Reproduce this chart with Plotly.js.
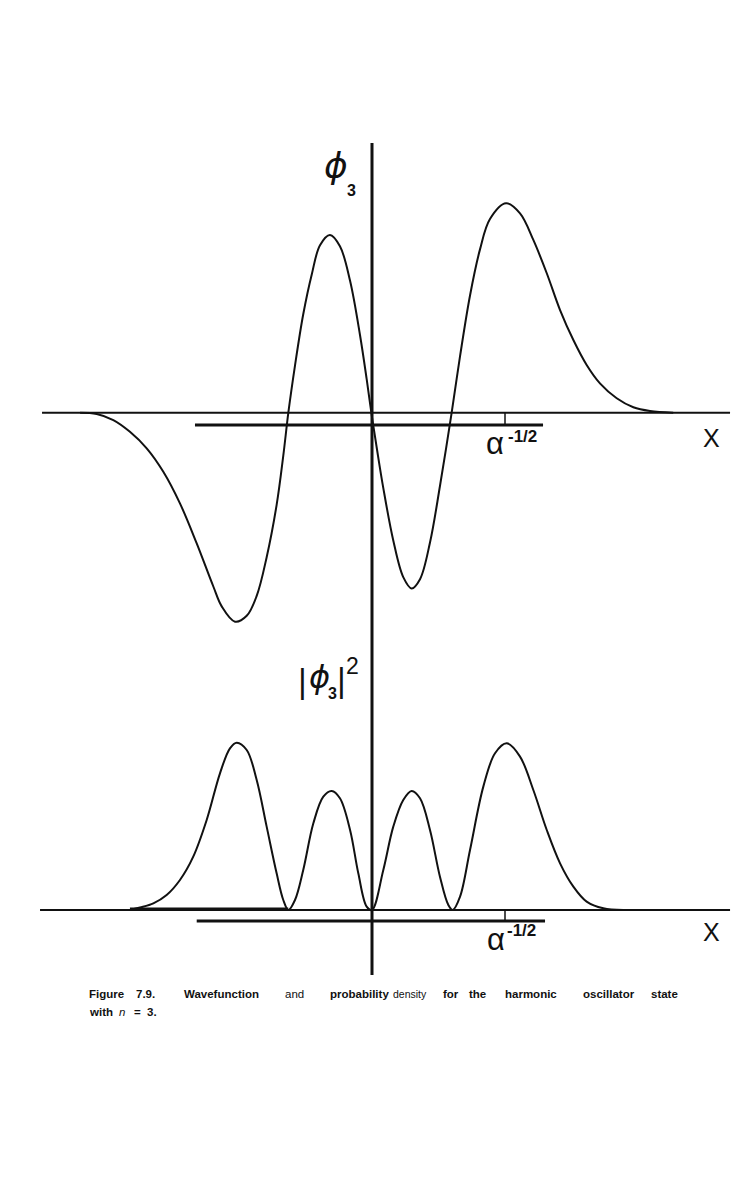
<!DOCTYPE html>
<html><head><meta charset="utf-8">
<script src="https://cdn.plot.ly/plotly-3.0.1.min.js"></script>
<style>html,body{margin:0;padding:0;background:#fff}#chart{width:744px;height:1196px}</style>
</head><body><div id="chart"></div>
<script>
// x in units of alpha^-1/2 ; y relative to the outer right maximum
const phiX = [-2.195,-2.070,-1.945,-1.820,-1.694,-1.569,-1.444,-1.318,-1.193,-1.130,-1.030,-0.942,-0.867,-0.792,-0.717,-0.667,-0.629,
  -0.579,-0.517,-0.453,-0.391,-0.316,-0.241,-0.165,-0.090,-0.040,-0.005,0.035,0.085,0.160,0.235,0.298,0.361,0.436,0.511,0.599,
  0.662,0.737,0.812,0.887,1.008,1.113,1.213,1.314,1.414,1.514,1.614,1.714,1.840,1.965,2.090,2.265];
const phiY = [0.000,-0.006,-0.035,-0.091,-0.170,-0.282,-0.433,-0.624,-0.830,-0.925,-0.998,-0.970,-0.875,-0.690,-0.440,-0.205,0.000,
  0.225,0.470,0.660,0.800,0.849,0.795,0.630,0.370,0.160,0.000,-0.165,-0.360,-0.610,-0.785,-0.839,-0.795,-0.620,-0.350,0.000,
  0.270,0.560,0.780,0.925,1.000,0.952,0.825,0.666,0.490,0.347,0.228,0.140,0.069,0.026,0.008,0.000];
const probX = [-1.820,-1.744,-1.644,-1.544,-1.444,-1.344,-1.243,-1.143,-1.068,-1.017,-0.942,-0.867,-0.792,-0.717,-0.667,-0.629,
  -0.579,-0.517,-0.441,-0.366,-0.303,-0.241,-0.165,-0.103,-0.040,0.000,0.085,0.160,0.235,0.298,0.361,0.436,0.511,0.574,0.607,
  0.662,0.737,0.837,0.925,1.013,1.113,1.213,1.314,1.414,1.514,1.614,1.739,1.889];
const probY = [0.000,0.015,0.040,0.090,0.180,0.320,0.540,0.820,0.970,1.004,0.960,0.780,0.500,0.220,0.060,0.000,
  0.060,0.240,0.520,0.680,0.714,0.670,0.480,0.220,0.020,0.000,0.240,0.500,0.660,0.714,0.670,0.480,0.200,0.030,0.000,
  0.080,0.360,0.740,0.940,1.000,0.920,0.720,0.480,0.280,0.140,0.050,0.010,0.000];

const axisExtentTop = [-2.481, 2.692];
const axisExtentBottom = [-2.496, 2.692];
const scaleBarTop = [-1.331, 1.286];
const scaleBarBottom = [-1.318, 1.301];
const tickValue = 1;
const tickLabel = 'α';
const tickLabelExp = '-1/2';
const axisLabel = 'X';
const phiSymbol = 'ϕ';
const phiIndex = '3';
const barSymbol = '|';
const powerLabel = '2';
const captionLine1 = ['Figure','7.9.','Wavefunction','and','probability','density','for','the','harmonic','oscillator','state'];
const captionLine2 = ['with','<i>n</i>','=','3.'];

const W = 744, H = 1196;
const py = p => 1 - p / H;
const ink = '#111';

const traces = [
  {x: phiX, y: phiY, xaxis: 'x', yaxis: 'y', mode: 'lines', line: {color: ink, width: 2, shape: 'spline', smoothing: 1}, hoverinfo: 'skip'},
  {x: probX, y: probY, xaxis: 'x', yaxis: 'y2', mode: 'lines', line: {color: ink, width: 2, shape: 'spline', smoothing: 1}, hoverinfo: 'skip'}
];

const barOffTop = -0.0587, barOffBot = -0.066;
const shapes = [
  {type: 'line', xref: 'x', yref: 'paper', x0: 0, x1: 0, y0: py(975), y1: py(143), line: {color: ink, width: 3}},
  {type: 'line', xref: 'x', yref: 'y', x0: axisExtentTop[0], x1: axisExtentTop[1], y0: 0, y1: 0, line: {color: ink, width: 2}},
  {type: 'line', xref: 'x', yref: 'y', x0: scaleBarTop[0], x1: scaleBarTop[1], y0: barOffTop, y1: barOffTop, line: {color: ink, width: 3.2}},
  {type: 'line', xref: 'x', yref: 'y', x0: tickValue, x1: tickValue, y0: 0, y1: barOffTop, line: {color: ink, width: 1.5}},
  {type: 'line', xref: 'x', yref: 'y2', x0: axisExtentBottom[0], x1: axisExtentBottom[1], y0: 0, y1: 0, line: {color: ink, width: 2}},
  {type: 'line', xref: 'x', yref: 'y2', x0: -1.82, x1: -0.63, y0: 0.006, y1: 0.006, line: {color: ink, width: 3.2}},
  {type: 'line', xref: 'x', yref: 'y2', x0: scaleBarBottom[0], x1: scaleBarBottom[1], y0: barOffBot, y1: barOffBot, line: {color: ink, width: 3.2}},
  {type: 'line', xref: 'x', yref: 'y2', x0: tickValue, x1: tickValue, y0: 0, y1: barOffBot, line: {color: ink, width: 1.5}}
];

const phiFont = s => ({family: 'DejaVu Sans', size: s, color: ink, style: 'italic'});
const idxFont = {family: 'Liberation Sans', size: 16, color: ink, weight: 'bold'};
const ann = (yref, x, y, text, font) => ({xref: 'x', yref: yref, x: x, y: y, xanchor: 'center', yanchor: 'middle', text: text, showarrow: false, font: font});
const annotations = [
  // top title phi_3
  ann('y', -0.274, 1.18, phiSymbol, phiFont(36)),
  ann('y', -0.155, 1.061, phiIndex, idxFont),
  // bottom title |phi_3|^2
  ann('y2', -0.519, 1.371, barSymbol, {family: 'DejaVu Sans', size: 32, color: ink}),
  ann('y2', -0.398, 1.398, phiSymbol, phiFont(32)),
  ann('y2', -0.295, 1.300, phiIndex, idxFont),
  ann('y2', -0.233, 1.377, barSymbol, {family: 'DejaVu Sans', size: 32, color: ink}),
  ann('y2', -0.147, 1.461, powerLabel, {family: 'Liberation Sans', size: 23, color: ink}),
  // tick labels and axis labels
  ann('y', tickValue - 0.075, -0.149, tickLabel, {family: 'Liberation Sans', size: 31, color: ink}),
  Object.assign(ann('y', tickValue + 0.005, -0.114, tickLabelExp, {family: 'Liberation Sans', size: 17, color: ink, weight: 'bold'}), {xanchor: 'left'}),
  ann('y', 2.553, -0.123, axisLabel, {family: 'Liberation Sans', size: 25, color: ink}),
  ann('y2', tickValue - 0.07, -0.176, tickLabel, {family: 'Liberation Sans', size: 31, color: ink}),
  Object.assign(ann('y2', tickValue + 0.0, -0.12, tickLabelExp, {family: 'Liberation Sans', size: 17, color: ink, weight: 'bold'}), {xanchor: 'left'}),
  ann('y2', 2.556, -0.132, axisLabel, {family: 'Liberation Sans', size: 25, color: ink})
];

// caption word placement (layout only)
const cap1Left = [87, 134, 182, 283, 328, 391, 441, 467, 503, 581, 649];
const cap2Left = [87, 117, 132, 145];
captionLine1.forEach((w, i) => {
  const light = (w === 'and' || w === 'density');
  annotations.push({xref: 'paper', yref: 'paper', x: cap1Left[i] / W, y: py(994), xanchor: 'left', yanchor: 'middle',
    text: w, showarrow: false, font: {family: 'Liberation Sans', size: w === 'density' ? 10.5 : 11.5, color: ink, weight: light ? 'normal' : 'bold'}});
});
captionLine2.forEach((w, i) => {
  annotations.push({xref: 'paper', yref: 'paper', x: cap2Left[i] / W, y: py(1012), xanchor: 'left', yanchor: 'middle',
    text: w, showarrow: false, font: {family: 'Liberation Sans', size: 11.5, color: ink, weight: i === 1 ? 'normal' : 'bold'}});
});

const layout = {
  width: W, height: H, margin: {l: 0, r: 0, t: 0, b: 0},
  paper_bgcolor: '#fff', plot_bgcolor: 'rgba(0,0,0,0)', showlegend: false,
  xaxis: {domain: [0, 1], range: [-372 / 133, 372 / 133], visible: false, anchor: 'y2'},
  yaxis: {domain: [py(640), py(130)], range: [(412.7 - 640) / 209.4, (412.7 - 130) / 209.4], visible: false, anchor: 'x'},
  yaxis2: {domain: [py(985), py(640)], range: [(910 - 985) / 166.7, (910 - 640) / 166.7], visible: false, anchor: 'x'},
  shapes: shapes, annotations: annotations
};
Plotly.newPlot('chart', traces, layout, {staticPlot: true, displayModeBar: false});
</script></body></html>
